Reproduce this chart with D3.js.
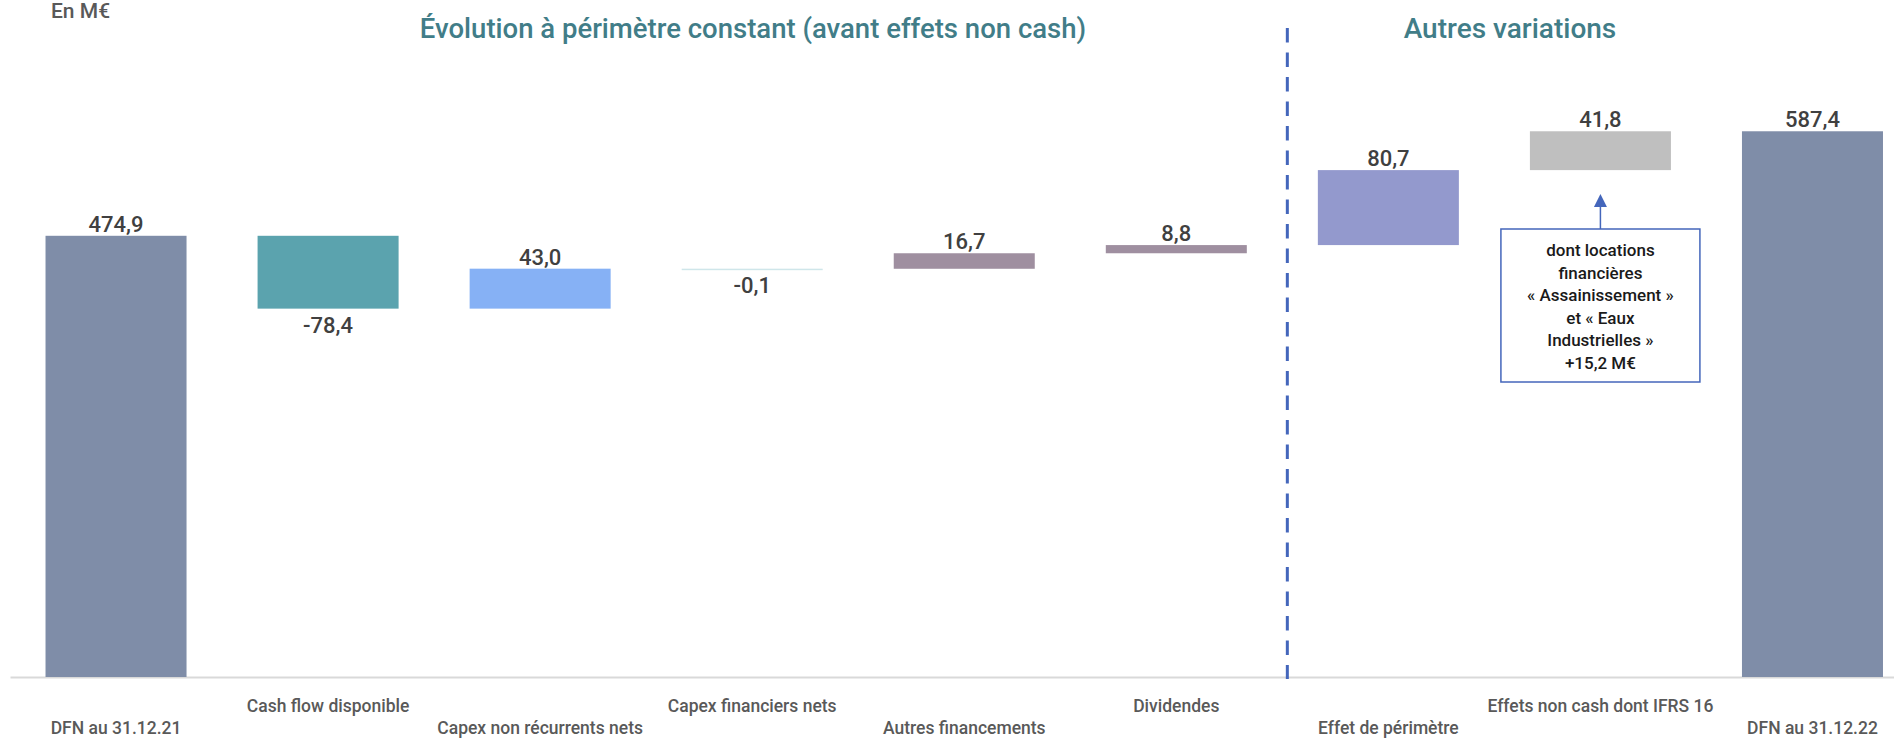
<!DOCTYPE html>
<html>
<head>
<meta charset="utf-8">
<script src="https://cdn.jsdelivr.net/npm/d3@7"></script>
<style>
  body { margin: 0; background: #fff; }
  svg { display: block; font-family: Roboto, "DejaVu Sans", sans-serif; }
</style>
</head>
<body>
<svg id="chart" width="1894" height="738"></svg>
<script>
// data (M€)
var categories = ["DFN au 31.12.21", "Cash flow disponible", "Capex non récurrents nets",
                  "Capex financiers nets", "Autres financements", "Dividendes",
                  "Effet de périmètre", "Effets non cash dont IFRS 16", "DFN au 31.12.22"];
var values   = [474.9, -78.4, 43.0, -0.1, 16.7, 8.8, 80.7, 41.8, 587.4];
var isTotal  = [true, false, false, false, false, false, false, false, true];
var barColors = ["#7f8da8", "#5ba3ae", "#86b1f5", "#cfe6ea", "#9f8fa0", "#9f8fa0", "#9399cd", "#bfbfbf", "#7f8da8"];
var noteLines = ["dont locations", "financières", "« Assainissement »", "et « Eaux", "Industrielles »", "+15,2 M€"];

var fr = d3.formatLocale({decimal: ",", thousands: " ", grouping: [3], currency: ["", " €"], minus: "-"});
var fmt = fr.format(".1f");

// running totals for the waterfall
var bars = [];
var run = 0;
values.forEach(function(v, i){
    var start, end;
    if (isTotal[i]) { start = 0; end = v; run = v; }
    else { start = run; end = run + v; run = end; }
    bars.push({cat: categories[i], value: v, start: start, end: end, total: isTotal[i], color: barColors[i], i: i});
});

const svg = d3.select("#chart"),
      baseY = 677,
      x = d3.scaleBand().domain(categories).range([10, 1918.5]).paddingInner(0.335).paddingOuter(0.1675),
      y = d3.scaleLinear().domain([0, 728.7]).range([baseY, 0]);

// category axis along the baseline
const ax = svg.append("g")
    .attr("transform", `translate(0,${baseY})`)
    .call(d3.axisBottom(x).tickSize(0));
ax.select(".domain").attr("stroke", "#d9d9d9").attr("stroke-width", 2);
ax.selectAll("text")
    .attr("dy", null)
    .attr("y", (d, i) => i % 2 ? 34.5 : 57)
    .attr("fill", "#595959")
    .style("font-family", "Roboto, sans-serif")
    .style("font-size", "17.5px")
    .style("font-weight", "500");

// bars
svg.selectAll(".bar")
  .data(bars)
  .enter().append("rect")
    .attr("class", "bar")
    .attr("x", d => x(d.cat))
    .attr("width", x.bandwidth())
    .attr("y", d => y(Math.max(d.start, d.end)))
    .attr("height", d => Math.max(1.5, Math.abs(y(d.start) - y(d.end))))
    .attr("fill", d => d.color);

// value labels
svg.selectAll(".val")
  .data(bars)
  .enter().append("text")
    .attr("class", "val")
    .attr("x", d => x(d.cat) + x.bandwidth() / 2)
    .attr("y", d => d.value < 0 ? y(Math.min(d.start, d.end)) + 24 : y(Math.max(d.start, d.end)) - 4)
    .attr("text-anchor", "middle")
    .attr("fill", "#404040")
    .style("font-size", "22px")
    .style("font-weight", "500")
    .text(d => fmt(d.value));

// separator between the two groups
var sepX = x(categories[6]) - x.step() * x.paddingInner() / 2 + 5;
svg.append("line")
    .attr("x1", sepX).attr("x2", sepX)
    .attr("y1", 28).attr("y2", baseY + 2)
    .attr("stroke", "#4466bb")
    .attr("stroke-width", 3)
    .attr("stroke-dasharray", "14.5,10");

// headings
svg.append("text")
    .attr("x", 51).attr("y", 18)
    .attr("fill", "#595959")
    .style("font-size", "21px")
    .style("font-weight", "500")
    .text("En M€");

svg.append("text")
    .attr("x", 753).attr("y", 38)
    .attr("text-anchor", "middle")
    .attr("fill", "#417d88")
    .style("font-size", "27.5px")
    .style("font-weight", "500")
    .text("Évolution à périmètre constant (avant effets non cash)");

svg.append("text")
    .attr("x", 1510).attr("y", 38)
    .attr("text-anchor", "middle")
    .attr("fill", "#417d88")
    .style("font-size", "28px")
    .style("font-weight", "500")
    .text("Autres variations");

// note box under the non cash bar, with an arrow pointing up to it
var noteBar = bars[7];
var cx = x(noteBar.cat) + x.bandwidth() / 2;
var tipY = y(noteBar.start) + 24;
var boxTop = 229, boxW = 199, boxH = 153;

svg.append("line")
    .attr("x1", cx).attr("x2", cx)
    .attr("y1", boxTop).attr("y2", tipY + 10)
    .attr("stroke", "#4466bb")
    .attr("stroke-width", 1.5);
svg.append("path")
    .attr("d", `M${cx},${tipY} L${cx - 6.5},${tipY + 13} L${cx + 6.5},${tipY + 13} Z`)
    .attr("fill", "#4466bb");

svg.append("rect")
    .attr("x", cx - boxW / 2).attr("y", boxTop)
    .attr("width", boxW).attr("height", boxH)
    .attr("fill", "#fff")
    .attr("stroke", "#4466bb")
    .attr("stroke-width", 1.5);

svg.append("g").selectAll("text")
  .data(noteLines)
  .enter().append("text")
    .attr("x", cx)
    .attr("y", (d, i) => 256 + i * 22.5)
    .attr("text-anchor", "middle")
    .attr("fill", "#1a1a1a")
    .style("font-size", "17px")
    .style("font-weight", "500")
    .text(d => d);
</script>
</body>
</html>
